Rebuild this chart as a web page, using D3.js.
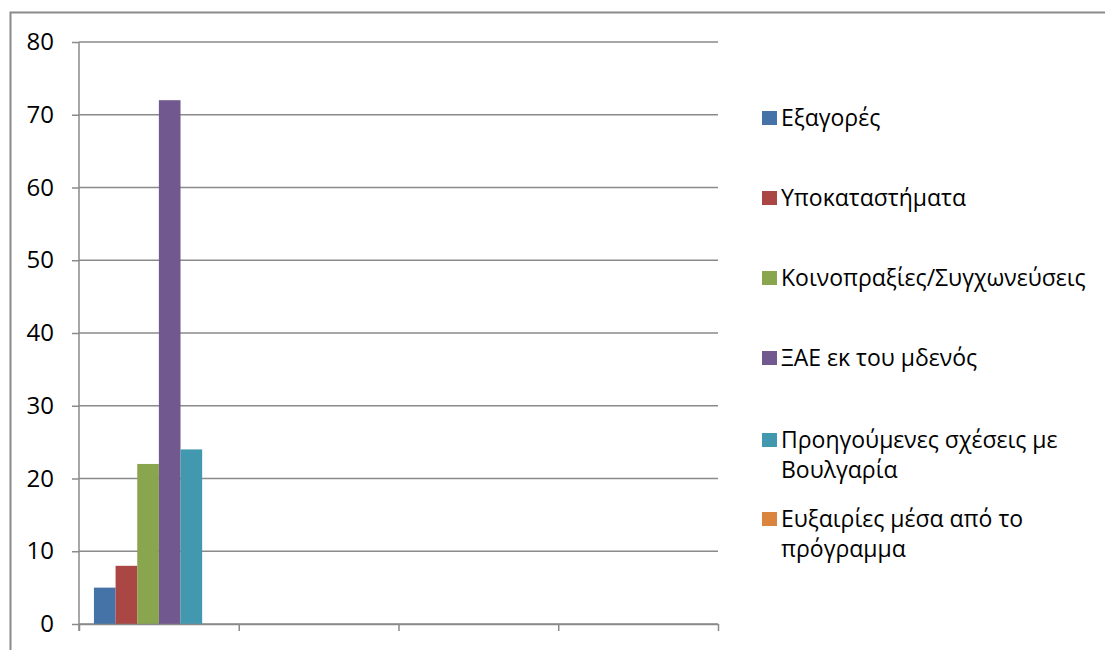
<!DOCTYPE html>
<html>
<head>
<meta charset="utf-8">
<script src="https://cdn.jsdelivr.net/npm/d3@7"></script>
<style>
  body { margin: 0; background: #fff; }
  svg { display: block; font-family: "Open Sans", "Noto Sans", sans-serif; }
  .grid line { stroke: #8a8a8a; stroke-width: 1.5; }
  .axis path, .axis line { stroke: #8a8a8a; stroke-width: 1.5; }
  .axis text { fill: #000; font-size: 24px; font-family: "Open Sans", sans-serif; }
  .legend text { fill: #000; font-size: 23px; font-family: "Open Sans", sans-serif; }
</style>
</head>
<body>
<div id="chart"></div>
<script>
// data
const categories = [1, 2, 3, 4];
const seriesNames = [
  "Εξαγορές",
  "Υποκαταστήματα",
  "Κοινοπραξίες/Συγχωνεύσεις",
  "ΞΑΕ εκ του μδενός",
  "Προηγούμενες σχέσεις με Βουλγαρία",
  "Ευξαιρίες μέσα από το πρόγραμμα"
];
// one value per category (only the first category has data)
const exagores        = [5, null, null, null];
const ypokatastimata  = [8, null, null, null];
const koinopraxies    = [22, null, null, null];
const xaeMidenos      = [72, null, null, null];
const proigoumenes    = [24, null, null, null];
const eukairies       = [0, null, null, null];
const yTicks = [0, 10, 20, 30, 40, 50, 60, 70, 80];
const colors = ["#4572A7", "#AA4643", "#89A54E", "#71588F", "#4198AF", "#DB843D"];

const seriesValues = [exagores, ypokatastimata, koinopraxies, xaeMidenos, proigoumenes, eukairies];

const W = 1105, H = 650;
const plot = {left: 79, right: 718, top: 42, bottom: 624};

const svg = d3.select("#chart").append("svg")
  .attr("width", W)
  .attr("height", H);

// outer chart border
svg.append("rect")
  .attr("x", 10.5).attr("y", 12.5)
  .attr("width", 1100).attr("height", 660)
  .attr("fill", "none")
  .attr("stroke", "#8a8a8a")
  .attr("stroke-width", 2);

const y = d3.scaleLinear().domain([0, 80]).range([plot.bottom, plot.top]);
const x0 = d3.scaleBand().domain(categories).range([plot.left, plot.right]).padding(0);
const x1 = d3.scaleBand().domain(d3.range(seriesNames.length))
  .range([0, x0.bandwidth()])
  .paddingInner(0).paddingOuter(0.69);
const xEdges = d3.scaleLinear().domain([0, categories.length]).range([plot.left, plot.right]);

// gridlines
svg.append("g")
  .attr("class", "grid")
  .selectAll("line")
  .data(yTicks)
  .join("line")
  .attr("x1", plot.left).attr("x2", plot.right)
  .attr("y1", d => y(d)).attr("y2", d => y(d));

// y axis
const yAxis = svg.append("g")
  .attr("class", "axis")
  .attr("transform", `translate(${plot.left},0)`)
  .call(d3.axisLeft(y).tickValues(yTicks).tickSize(7).tickSizeOuter(0).tickPadding(18));
yAxis.select(".domain").attr("d", `M0,${plot.top}V${plot.bottom + 7}`);

// x axis (category boundaries, no labels)
const xAxis = svg.append("g")
  .attr("class", "axis")
  .attr("transform", `translate(0,${plot.bottom})`)
  .call(d3.axisBottom(xEdges).tickValues(d3.range(categories.length + 1)).tickSize(7).tickSizeOuter(0).tickFormat(""));

// bars
const bars = [];
seriesValues.forEach((vals, s) => {
  vals.forEach((v, c) => {
    if (v !== null) bars.push({s: s, c: categories[c], v: v});
  });
});

svg.append("g")
  .selectAll("rect")
  .data(bars)
  .join("rect")
  .attr("x", d => x0(d.c) + x1(d.s))
  .attr("width", x1.bandwidth())
  .attr("y", d => y(d.v))
  .attr("height", d => y(0) - y(d.v))
  .attr("fill", d => colors[d.s]);

// redraw x axis line over bar bottoms
xAxis.raise();

// legend
const legend = svg.append("g").attr("class", "legend");
const legendX = 762, textX = 781, maxW = 318;
const firstLine = [126, 206, 286, 366, 448, 527];

seriesNames.forEach((name, i) => {
  const g = legend.append("g");
  g.append("rect")
    .attr("x", legendX).attr("y", firstLine[i] - 15)
    .attr("width", 15).attr("height", 14)
    .attr("fill", colors[i]);
  const t = g.append("text").attr("x", textX).attr("y", firstLine[i]);
  // simple word wrap
  const words = name.split(" ");
  let line = [];
  let tspan = t.append("tspan").attr("x", textX).attr("dy", 0);
  words.forEach(w => {
    line.push(w);
    tspan.text(line.join(" "));
    if (tspan.node().getComputedTextLength() > maxW && line.length > 1) {
      line.pop();
      tspan.text(line.join(" "));
      line = [w];
      tspan = t.append("tspan").attr("x", textX).attr("dy", 30).text(w);
    }
  });
});
</script>
</body>
</html>
